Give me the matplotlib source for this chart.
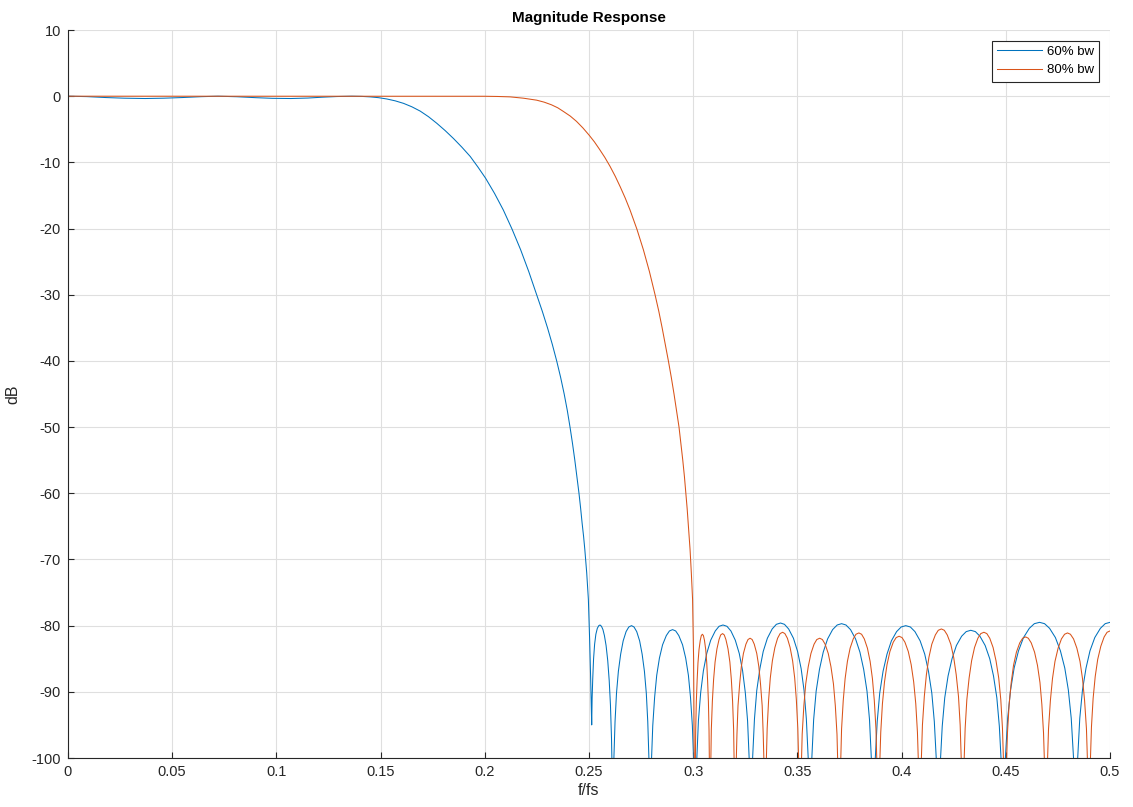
import matplotlib.pyplot as plt

plt.rcParams['font.family'] = ['Liberation Sans', 'DejaVu Sans']
plt.rcParams['axes.unicode_minus'] = False

# ---- valores (f/fs, dB) ----
# 60% bw : banda passante + transicao
f60_pass = [0, 0.009, 0.018, 0.027, 0.037, 0.046, 0.055, 0.064, 0.072, 0.081,
            0.090, 0.098, 0.107, 0.115, 0.122, 0.129, 0.136, 0.141, 0.145, 0.149,
            0.153, 0.157, 0.161, 0.165, 0.169, 0.173, 0.177, 0.181, 0.185, 0.189,
            0.193, 0.1967, 0.2004, 0.2047, 0.2089, 0.2131, 0.2172, 0.2211, 0.2249,
            0.2276, 0.2301, 0.2324, 0.2345, 0.2364, 0.2381, 0.2396, 0.2409, 0.2421,
            0.2432, 0.2442, 0.2452, 0.2460, 0.2467, 0.2474, 0.2480, 0.2489, 0.2497,
            0.2503, 0.2508, 0.2513]
db60_pass = [0, -0.06, -0.2, -0.3, -0.35, -0.3, -0.2, -0.07, 0, -0.08,
             -0.22, -0.32, -0.35, -0.28, -0.15, -0.05, 0, -0.03, -0.1, -0.22,
             -0.42, -0.7, -1.08, -1.6, -2.25, -3.1, -4.1, -5.2, -6.4, -7.7,
             -9.1, -10.7, -12.4, -14.7, -17.2, -20.1, -23.2, -26.5, -30,
             -32.5, -35, -37.5, -40, -42.5, -45, -47.5, -50, -52.5,
             -55, -57.5, -60, -62.3, -64.5, -66.5, -68.5, -72, -76,
             -82, -88, -95]

# 60% bw : lobulos da banda de rejeicao (um lobulo por linha)
f60_stop = [
    0.2515, 0.2518, 0.2522, 0.2527, 0.2533, 0.2540, 0.2547, 0.2553, 0.2560, 0.2567, 0.2574, 0.2582, 0.2590, 0.2597, 0.2603, 0.2608, 0.2611,
    0.2614, 0.2619, 0.2625, 0.2632, 0.2641, 0.2652, 0.2664, 0.2678, 0.2691, 0.2704, 0.2716, 0.2729, 0.2743, 0.2755, 0.2766, 0.2775, 0.2782, 0.2788,
    0.2793, 0.2799, 0.2806, 0.2815, 0.2825, 0.2838, 0.2853, 0.2871, 0.2886, 0.2901, 0.2916, 0.2931, 0.2949, 0.2964, 0.2977, 0.2987, 0.2996, 0.3003,
    0.3009, 0.3017, 0.3025, 0.3036, 0.3049, 0.3065, 0.3084, 0.3106, 0.3124, 0.3143, 0.3162, 0.3181, 0.3202, 0.3221, 0.3237, 0.3250, 0.3261, 0.3269,
    0.3277, 0.3285, 0.3294, 0.3305, 0.3320, 0.3336, 0.3356, 0.3379, 0.3399, 0.3419, 0.3438, 0.3458, 0.3481, 0.3501, 0.3518, 0.3532, 0.3543, 0.3552,
    0.3560, 0.3569, 0.3578, 0.3590, 0.3606, 0.3624, 0.3645, 0.3669, 0.3691, 0.3712, 0.3733, 0.3755, 0.3779, 0.3800, 0.3818, 0.3834, 0.3846, 0.3855,
    0.3864, 0.3873, 0.3883, 0.3895, 0.3911, 0.3930, 0.3951, 0.3976, 0.3998, 0.4020, 0.4042, 0.4064, 0.4089, 0.4111, 0.4129, 0.4145, 0.4157, 0.4167,
    0.4176, 0.4185, 0.4195, 0.4207, 0.4223, 0.4242, 0.4263, 0.4288, 0.4310, 0.4332, 0.4354, 0.4376, 0.4401, 0.4423, 0.4441, 0.4457, 0.4469, 0.4479,
    0.4488, 0.4498, 0.4509, 0.4523, 0.4540, 0.4561, 0.4585, 0.4613, 0.4637, 0.4662, 0.4686, 0.4710, 0.4738, 0.4762, 0.4783, 0.4800, 0.4814, 0.4825,
    0.4835, 0.4845, 0.4855, 0.4868, 0.4885, 0.4904, 0.4927, 0.4954, 0.4977, 0.5000]
db60_stop = [
    -91, -88, -85, -82.8, -81.3, -80.4, -80.0, -79.9, -80.1, -80.6, -81.5, -83, -85.3, -88.3, -92, -97, -102,
    -140, -100.5, -94.5, -90.2, -86.9, -84.3, -82.3, -80.9, -80.2, -80.0, -80.2, -80.9, -82.3, -84.3, -86.9, -90.2, -94.5, -100.5,
    -140, -101.1, -95.1, -90.8, -87.5, -84.9, -82.9, -81.5, -80.8, -80.6, -80.8, -81.5, -82.9, -84.9, -87.5, -90.8, -95.1, -101.1,
    -140, -100.4, -94.4, -90.1, -86.8, -84.2, -82.2, -80.8, -80.1, -79.9, -80.1, -80.8, -82.2, -84.2, -86.8, -90.1, -94.4, -100.4,
    -140, -100.1, -94.1, -89.8, -86.5, -83.9, -81.9, -80.5, -79.8, -79.6, -79.8, -80.5, -81.9, -83.9, -86.5, -89.8, -94.1, -100.1,
    -140, -100.2, -94.2, -89.9, -86.6, -84.0, -82.0, -80.6, -79.9, -79.7, -79.9, -80.6, -82.0, -84.0, -86.6, -89.9, -94.2, -100.2,
    -140, -100.5, -94.5, -90.2, -86.9, -84.3, -82.3, -80.9, -80.2, -80.0, -80.2, -80.9, -82.3, -84.3, -86.9, -90.2, -94.5, -100.5,
    -140, -101.2, -95.2, -90.9, -87.6, -85.0, -83.0, -81.6, -80.9, -80.7, -80.9, -81.6, -83.0, -85.0, -87.6, -90.9, -95.2, -101.2,
    -140, -100.0, -94.0, -89.7, -86.4, -83.8, -81.8, -80.4, -79.7, -79.5, -79.7, -80.4, -81.8, -83.8, -86.4, -89.7, -94.0, -100.0,
    -140, -100.0, -94.0, -89.7, -86.4, -83.8, -81.8, -80.4, -79.7, -79.5]

# 80% bw : banda passante + transicao
f80_pass = [0, 0.05, 0.10, 0.15, 0.19, 0.200, 0.206, 0.2121, 0.2185, 0.2249,
            0.2285, 0.2320, 0.2350, 0.2377, 0.2410, 0.2440, 0.2471, 0.2501, 0.2526,
            0.2550, 0.2576, 0.2601, 0.2626, 0.2650, 0.2674, 0.2697, 0.2730, 0.2761,
            0.2790, 0.2817, 0.2835, 0.2851, 0.2866, 0.2881, 0.2895, 0.2908, 0.2920,
            0.2932, 0.2941, 0.2950, 0.2958, 0.2965, 0.2971, 0.2976, 0.2981, 0.2985,
            0.2991, 0.2997, 0.3002, 0.3005]
db80_pass = [0, 0, 0, 0, 0, -0.01, -0.04, -0.1, -0.3, -0.6,
             -0.9, -1.3, -1.75, -2.3, -3.0, -3.8, -4.8, -5.9, -6.9,
             -8.0, -9.25, -10.6, -12.1, -13.7, -15.4, -17.2, -20.1, -23.2,
             -26.5, -30, -32.5, -35, -37.5, -40, -42.5, -45, -47.5,
             -50, -52.5, -55, -57.5, -60, -62.3, -64.5, -66.5, -68.5,
             -72, -76, -85, -100]

# 80% bw : lobulos da banda de rejeicao
f80_stop = [
    0.3008, 0.3010, 0.3012, 0.3015, 0.3019, 0.3023, 0.3028, 0.3034, 0.3039, 0.3044, 0.3049, 0.3054, 0.3060, 0.3065, 0.3069, 0.3073, 0.3076, 0.3078,
    0.3080, 0.3084, 0.3087, 0.3092, 0.3098, 0.3105, 0.3114, 0.3124, 0.3132, 0.3141, 0.3149, 0.3157, 0.3167, 0.3176, 0.3183, 0.3189, 0.3194, 0.3197,
    0.3201, 0.3205, 0.3210, 0.3215, 0.3223, 0.3231, 0.3241, 0.3253, 0.3263, 0.3273, 0.3283, 0.3293, 0.3305, 0.3315, 0.3323, 0.3331, 0.3336, 0.3341,
    0.3345, 0.3350, 0.3355, 0.3362, 0.3370, 0.3380, 0.3392, 0.3405, 0.3417, 0.3429, 0.3440, 0.3452, 0.3465, 0.3477, 0.3487, 0.3495, 0.3502, 0.3507,
    0.3512, 0.3518, 0.3523, 0.3531, 0.3540, 0.3552, 0.3565, 0.3580, 0.3593, 0.3607, 0.3620, 0.3633, 0.3648, 0.3661, 0.3673, 0.3682, 0.3690, 0.3695,
    0.3701, 0.3707, 0.3712, 0.3720, 0.3729, 0.3740, 0.3753, 0.3768, 0.3781, 0.3795, 0.3808, 0.3821, 0.3836, 0.3849, 0.3860, 0.3869, 0.3877, 0.3882,
    0.3888, 0.3894, 0.3900, 0.3908, 0.3918, 0.3930, 0.3944, 0.3960, 0.3974, 0.3988, 0.4002, 0.4016, 0.4032, 0.4046, 0.4058, 0.4068, 0.4076, 0.4082,
    0.4088, 0.4094, 0.4100, 0.4109, 0.4119, 0.4131, 0.4145, 0.4162, 0.4176, 0.4191, 0.4205, 0.4219, 0.4236, 0.4250, 0.4262, 0.4273, 0.4281, 0.4287,
    0.4293, 0.4299, 0.4305, 0.4313, 0.4324, 0.4336, 0.4350, 0.4366, 0.4380, 0.4395, 0.4409, 0.4423, 0.4439, 0.4453, 0.4466, 0.4476, 0.4484, 0.4490,
    0.4496, 0.4502, 0.4508, 0.4516, 0.4526, 0.4537, 0.4551, 0.4567, 0.4581, 0.4595, 0.4608, 0.4622, 0.4638, 0.4652, 0.4664, 0.4673, 0.4681, 0.4687,
    0.4693, 0.4699, 0.4705, 0.4714, 0.4724, 0.4736, 0.4751, 0.4767, 0.4782, 0.4796, 0.4810, 0.4825, 0.4841, 0.4856, 0.4868, 0.4878, 0.4887, 0.4893,
    0.4899, 0.4905, 0.4911, 0.4919, 0.4929, 0.4941, 0.4956, 0.4972, 0.4986, 0.5000]
db80_stop = [
    -140, -101.8, -95.8, -91.5, -88.2, -85.6, -83.6, -82.2, -81.5, -81.3, -81.5, -82.2, -83.6, -85.6, -88.2, -91.5, -95.8, -101.8,
    -140, -101.7, -95.7, -91.4, -88.1, -85.5, -83.5, -82.1, -81.4, -81.2, -81.4, -82.1, -83.5, -85.5, -88.1, -91.4, -95.7, -101.7,
    -140, -102.4, -96.4, -92.1, -88.8, -86.2, -84.2, -82.8, -82.1, -81.9, -82.1, -82.8, -84.2, -86.2, -88.8, -92.1, -96.4, -102.4,
    -140, -101.5, -95.5, -91.2, -87.9, -85.3, -83.3, -81.9, -81.2, -81.0, -81.2, -81.9, -83.3, -85.3, -87.9, -91.2, -95.5, -101.5,
    -140, -102.4, -96.4, -92.1, -88.8, -86.2, -84.2, -82.8, -82.1, -81.9, -82.1, -82.8, -84.2, -86.2, -88.8, -92.1, -96.4, -102.4,
    -140, -101.6, -95.6, -91.3, -88.0, -85.4, -83.4, -82.0, -81.3, -81.1, -81.3, -82.0, -83.4, -85.4, -88.0, -91.3, -95.6, -101.6,
    -140, -102.1, -96.1, -91.8, -88.5, -85.9, -83.9, -82.5, -81.8, -81.6, -81.8, -82.5, -83.9, -85.9, -88.5, -91.8, -96.1, -102.1,
    -140, -101.0, -95.0, -90.7, -87.4, -84.8, -82.8, -81.4, -80.7, -80.5, -80.7, -81.4, -82.8, -84.8, -87.4, -90.7, -95.0, -101.0,
    -140, -101.5, -95.5, -91.2, -87.9, -85.3, -83.3, -81.9, -81.2, -81.0, -81.2, -81.9, -83.3, -85.3, -87.9, -91.2, -95.5, -101.5,
    -140, -102.2, -96.2, -91.9, -88.6, -86.0, -84.0, -82.6, -81.9, -81.7, -81.9, -82.6, -84.0, -86.0, -88.6, -91.9, -96.2, -102.2,
    -140, -101.6, -95.6, -91.3, -88.0, -85.4, -83.4, -82.0, -81.3, -81.1, -81.3, -82.0, -83.4, -85.4, -88.0, -91.3, -95.6, -101.6,
    -140, -101.3, -95.3, -91.0, -87.7, -85.1, -83.1, -81.7, -81.0, -80.8]

labels = ['60% bw', '80% bw']
cores = ['#0072BD', '#D95319']

# ---- figura ----
fig = plt.figure(figsize=(11.33, 8.07), dpi=100)
ax = fig.add_axes([0.0600, 0.0607, 0.9197, 0.9021])

ax.plot(f60_pass + f60_stop, db60_pass + db60_stop, color=cores[0], lw=0.75, label=labels[0])
ax.plot(f80_pass + f80_stop, db80_pass + db80_stop, color=cores[1], lw=0.75, label=labels[1])

ax.set_xlim(0, 0.5)
ax.set_ylim(-100, 10)
ax.set_xticks([0, 0.05, 0.1, 0.15, 0.2, 0.25, 0.3, 0.35, 0.4, 0.45, 0.5])
ax.set_xticklabels(['0', '0.05', '0.1', '0.15', '0.2', '0.25', '0.3', '0.35', '0.4', '0.45', '0.5'])
ax.set_yticks(range(-100, 11, 10))

ax.grid(True, color='#dfdfdf', lw=0.8)
ax.set_axisbelow(True)
for lado in ['top', 'right']:
    ax.spines[lado].set_visible(False)
for lado in ['left', 'bottom']:
    ax.spines[lado].set_color('#262626')
    ax.spines[lado].set_linewidth(0.8)
ax.tick_params(direction='in', length=4, width=0.8, colors='#262626',
               labelsize=10.5, pad=5)

ax.set_title('Magnitude Response', fontsize=11, fontweight='bold', pad=6)
ax.set_xlabel('f/fs', fontsize=11.5, color='#262626', labelpad=3)
ax.set_ylabel('dB', fontsize=11.5, color='#262626', labelpad=8)

leg = ax.legend(loc='upper right', fontsize=9.5, fancybox=False, framealpha=1,
                edgecolor='#262626', handlelength=3.4, borderaxespad=0.8,
                borderpad=0.4, labelspacing=0.45, handletextpad=0.4)
leg.get_frame().set_linewidth(0.8)

plt.savefig('out.png', dpi=100)
